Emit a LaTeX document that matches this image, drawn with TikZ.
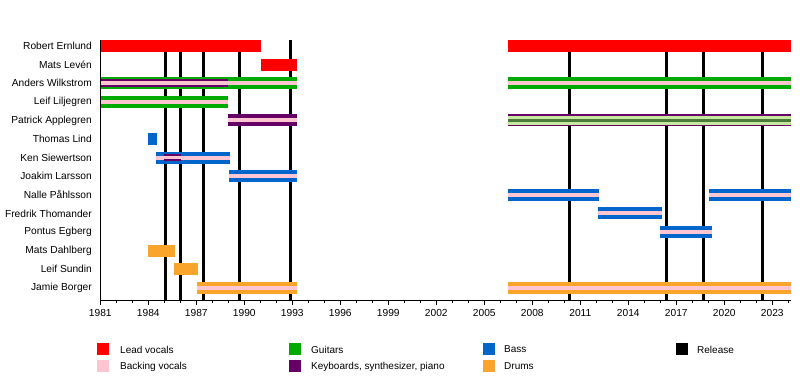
\documentclass[tikz,border=0pt]{standalone}
\usepackage{fontspec}
\setmainfont{Liberation Sans}
\definecolor{cred}{HTML}{FF0000}
\definecolor{cpink}{HTML}{FFC6D2}
\definecolor{cgreen}{HTML}{00AA00}
\definecolor{cpurple}{HTML}{660066}
\definecolor{cblue}{HTML}{0066CC}
\definecolor{corange}{HTML}{F9A52B}
\definecolor{clgreen}{HTML}{C8E8A0}
\definecolor{cdgreen}{HTML}{4A7A3A}
\newcommand{\seg}[5]{\fill[#4] ({100.3+16*(#1-1981)},{46+18.6*#3-#5}) rectangle ({100.3+16*(#2-1981)},{46+18.6*#3+#5});}
\newcommand{\rel}[1]{\draw[release] ({100.3+16*(#1-1981)},40) -- ({100.3+16*(#1-1981)},300);}
\begin{document}
\begin{tikzpicture}[x=1pt,y=-1pt,
  lbl/.style={anchor=east,font=\fontsize{10.2}{12}\selectfont,inner sep=0pt},
  ticklbl/.style={anchor=north,font=\fontsize{10.2}{12}\selectfont,inner sep=0pt},
  leglbl/.style={anchor=west,font=\fontsize{10}{12}\selectfont,inner sep=0pt},
  release/.style={line width=3pt,black},
  axisline/.style={line width=1pt,black}]
\useasboundingbox (0,0) rectangle (800,390);
\fill[white] (0,0) rectangle (800,390);
% release lines
\rel{1985.1}\rel{1986.0}\rel{1987.44}\rel{1989.73}\rel{1992.86}
\rel{2010.3}\rel{2016.36}\rel{2018.73}\rel{2022.4}
% Robert Ernlund (0)
\seg{1981}{1991.04}{0}{cred}{6}
\seg{2006.48}{2024.17}{0}{cred}{6}
% Mats Leven (1)
\seg{1991.04}{1993.27}{1}{cred}{6}
% Anders Wilkstrom (2)
\seg{1981}{1993.27}{2}{cgreen}{6}
\seg{1981}{1989.0}{2}{cpurple}{4}
\seg{1981}{1993.27}{2}{cpink}{2}
\seg{2006.48}{2024.17}{2}{cgreen}{6}
\seg{2006.48}{2024.17}{2}{cpink}{2}
% Leif Liljegren (3)
\seg{1981}{1988.96}{3}{cgreen}{6}
\seg{1981}{1988.96}{3}{cpink}{2}
% Patrick Applegren (4)
\seg{1989.0}{1993.27}{4}{cpurple}{6}
\seg{1989.0}{1993.27}{4}{cpink}{2}
\seg{2006.48}{2024.17}{4}{cpurple}{6}
\seg{2006.48}{2024.17}{4}{clgreen}{4.5}
\seg{2006.48}{2024.17}{4}{cdgreen}{1.2}
% Thomas Lind (5)
\seg{1984.0}{1984.55}{5}{cblue}{6}
% Ken Siewertson (6)
\seg{1984.47}{1989.1}{6}{cblue}{6}
\seg{1984.47}{1989.1}{6}{cpink}{2}
\seg{1985.0}{1986.03}{6}{cpurple}{3.5}
\seg{1985.0}{1986.03}{6}{cpink}{1.2}
% Joakim Larsson (7)
\seg{1989.03}{1993.27}{7}{cblue}{6}
\seg{1989.03}{1993.27}{7}{cpink}{2}
% Nalle Pahlsson (8)
\seg{2006.48}{2012.17}{8}{cblue}{6}
\seg{2006.48}{2012.17}{8}{cpink}{2}
\seg{2019.06}{2024.17}{8}{cblue}{6}
\seg{2019.06}{2024.17}{8}{cpink}{2}
% Fredrik Thomander (9)
\seg{2012.1}{2016.1}{9}{cblue}{6}
\seg{2012.1}{2016.1}{9}{cpink}{2}
% Pontus Egberg (10)
\seg{2016.0}{2019.2}{10}{cblue}{6}
\seg{2016.0}{2019.2}{10}{cpink}{2}
% Mats Dahlberg (11)
\seg{1984.0}{1985.67}{11}{corange}{6}
% Leif Sundin (12)
\seg{1985.6}{1987.1}{12}{corange}{6}
% Jamie Borger (13)
\seg{1987.05}{1993.27}{13}{corange}{6}
\seg{1987.05}{1993.27}{13}{cpink}{2}
\seg{2006.48}{2024.17}{13}{corange}{6}
\seg{2006.48}{2024.17}{13}{cpink}{2}
% axes
\draw[axisline] (100.3,40) -- (100.3,300) -- (791,300);
\foreach \yr in {1981,...,2024}{
  \draw[line width=0.8pt] ({100.3+16*(\yr-1981)},300) -- ({100.3+16*(\yr-1981)},303);
}
\foreach \yr in {1981,1984,...,2023}{
  \draw[line width=0.8pt] ({100.3+16*(\yr-1981)},300) -- ({100.3+16*(\yr-1981)},305);
  \node[ticklbl] (t\yr) at ({100.3+16*(\yr-1981)},309) {\yr};
}
% labels
\foreach \nm [count=\i from 0] in {Robert Ernlund,Mats Levén,Anders Wilkstrom,Leif Liljegren,Patrick Applegren,Thomas Lind,Ken Siewertson,Joakim Larsson,Nalle Påhlsson,Fredrik Thomander,Pontus Egberg,Mats Dahlberg,Leif Sundin,Jamie Borger}{
  \node[lbl] (n\i) at (92,{46+18.6*\i}) {\nm};
}
% legend
\fill[cred] (97,343) rectangle (109,355);
\node[leglbl] (l1) at (120,349.5) {Lead vocals};
\fill[cpink] (97,360) rectangle (109,372);
\node[leglbl] (l2) at (120,366.5) {Backing vocals};
\fill[cgreen] (289,343) rectangle (301,355);
\node[leglbl] (l3) at (311,349.5) {Guitars};
\fill[cpurple] (289,360) rectangle (301,372);
\node[leglbl] (l4) at (311,366.5) {Keyboards, synthesizer, piano};
\fill[cblue] (483,343) rectangle (495,355);
\node[leglbl] (l5) at (504,349.5) {Bass};
\fill[corange] (483,360) rectangle (495,372);
\node[leglbl] (l6) at (504,366.5) {Drums};
\fill[black] (676,343) rectangle (688,355);
\node[leglbl] (l7) at (697,349.5) {Release};
\end{tikzpicture}
\end{document}
